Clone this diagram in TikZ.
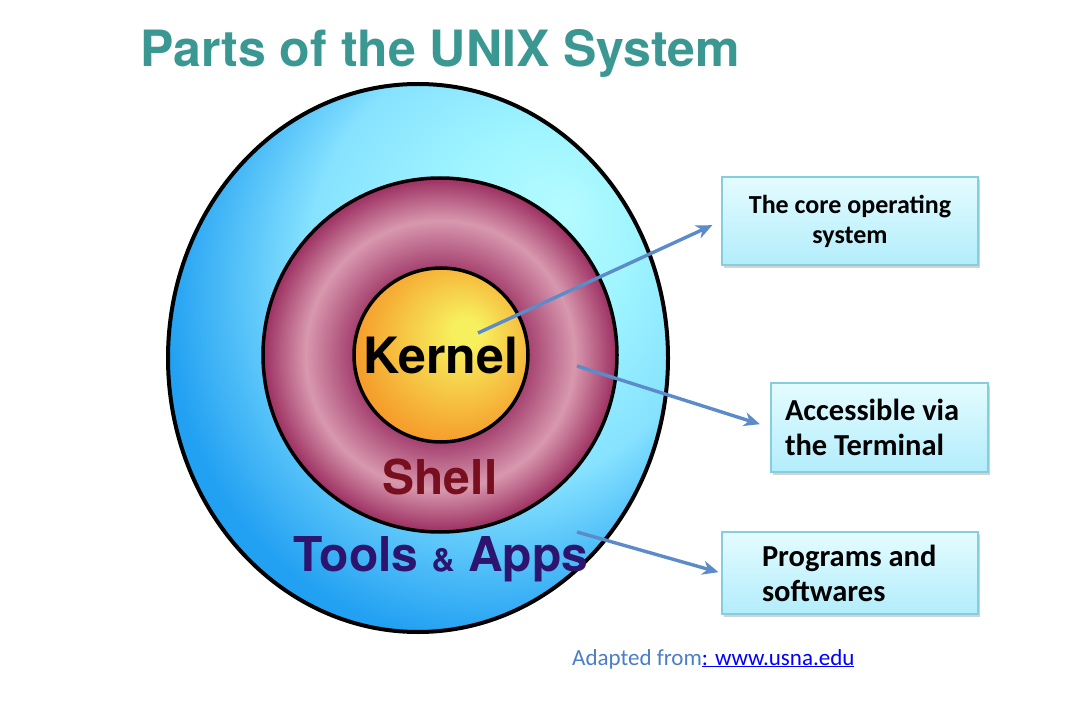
\documentclass[tikz,border=0pt]{standalone}
\usepackage{fontspec}
\setmainfont{Carlito}
\newfontfamily\heros{TeX Gyre Heros}
\usetikzlibrary{arrows.meta,shapes.geometric,shadows}

\definecolor{titleteal}{HTML}{3A9792}
\definecolor{toolsA}{HTML}{B4FBFF}
\definecolor{toolsB}{HTML}{A0F5FF}
\definecolor{toolsC}{HTML}{86E2FF}
\definecolor{toolsD}{HTML}{22A0F2}
\definecolor{shellA}{HTML}{A23C6C}
\definecolor{shellB}{HTML}{D898AE}
\definecolor{shellC}{HTML}{9C2F61}
\definecolor{kernA}{HTML}{F7F05E}
\definecolor{kernB}{HTML}{F59E2C}
\definecolor{shellred}{HTML}{780F1E}
\definecolor{toolsnavy}{HTML}{2D146E}
\definecolor{pointerblue}{HTML}{5B8BC8}
\definecolor{boxtop}{HTML}{E4FCFF}
\definecolor{boxbottom}{HTML}{B2EDFB}
\definecolor{boxline}{HTML}{86CDE0}
\definecolor{creditgray}{HTML}{4A7EC8}

\pgfdeclareradialshading{toolsglow}{\pgfpoint{15bp}{14bp}}{color(0bp)=(toolsA); color(9bp)=(toolsB); color(20bp)=(toolsC); color(31bp)=(toolsD); color(50bp)=(toolsD)}
\pgfdeclareradialshading{shellglow}{\pgfpoint{0bp}{0bp}}{color(0bp)=(shellA); color(12bp)=(shellA); color(19bp)=(shellB); color(25bp)=(shellC); color(50bp)=(shellC)}
\pgfdeclareradialshading{kernelglow}{\pgfpoint{8bp}{7bp}}{color(0bp)=(kernA); color(4bp)=(kernA); color(28bp)=(kernB); color(50bp)=(kernB)}

\begin{document}
\begin{tikzpicture}[x=1pt,y=-1pt,
  ring/.style={draw=black,line width=3.5pt},
  bigword/.style={font=\heros\bfseries\fontsize{48}{52}\selectfont},
  infobox/.style={draw=boxline,line width=1.2pt,top color=boxtop,bottom color=boxbottom,
    drop shadow={opacity=0.35,shadow xshift=2pt,shadow yshift=-3pt},
    font=\bfseries\fontsize{30.5}{35}\selectfont},
  pointer/.style={draw=pointerblue,line width=3.4pt,-{Stealth[length=16pt,width=14pt,inset=5pt]}}]
\useasboundingbox (0,0) rectangle (1071,719);

\node[anchor=base west,text=titleteal,inner sep=0pt,font=\heros\bfseries\fontsize{50}{56}\selectfont] (title) at (140,67) {Parts of the UNIX System};

\node[ellipse,ring,line width=4pt,shading=toolsglow,minimum width=500pt,minimum height=548pt,inner sep=0pt] (tools) at (418,358) {};
\node[circle,ring,shading=shellglow,minimum size=354pt,inner sep=0pt] (shell) at (440,355) {};
\node[circle,ring,shading=kernelglow,minimum size=174pt,inner sep=0pt,font=\heros\bfseries\fontsize{50}{52}\selectfont] (kernel) at (441,355) {Kernel};

\node[bigword,text=shellred,inner sep=0pt] (shelltext) at (440,477) {Shell};
\node[bigword,text=toolsnavy,inner sep=0pt] (toolstext) at (441,559) {Tools {\fontsize{32}{32}\selectfont\&} Apps};

\node[infobox,minimum width=256pt,minimum height=88pt,align=center,font=\bfseries\fontsize{26}{30}\selectfont] (core) at (850,221) {The core operating\\system};
\node[infobox,text width=189pt,inner xsep=14pt,minimum height=89pt,align=flush left] (terminal) at (879.5,427.5) {Accessible via\\the Terminal};
\node[infobox,text width=176pt,inner xsep=40pt,minimum height=82pt,align=flush left] (programs) at (850,573) {Programs and\\softwares};

\coordinate (kernelpt) at (478,333);
\coordinate (shellpt) at (577,366);
\coordinate (toolspt) at (577,532);
\draw[pointer,shorten >=10pt] (kernelpt) -- (core.west);
\draw[pointer,shorten >=11pt] (shellpt) -- (terminal.west);
\draw[pointer,shorten >=3pt] (toolspt) -- (programs.west);

\node[anchor=base west,inner sep=0pt,font=\fontsize{23}{26}\selectfont] (credit) at (572,665) {\textcolor{creditgray}{Adapted from}\textcolor{blue}{\underline{: www.usna.edu}}};
\end{tikzpicture}
\end{document}
